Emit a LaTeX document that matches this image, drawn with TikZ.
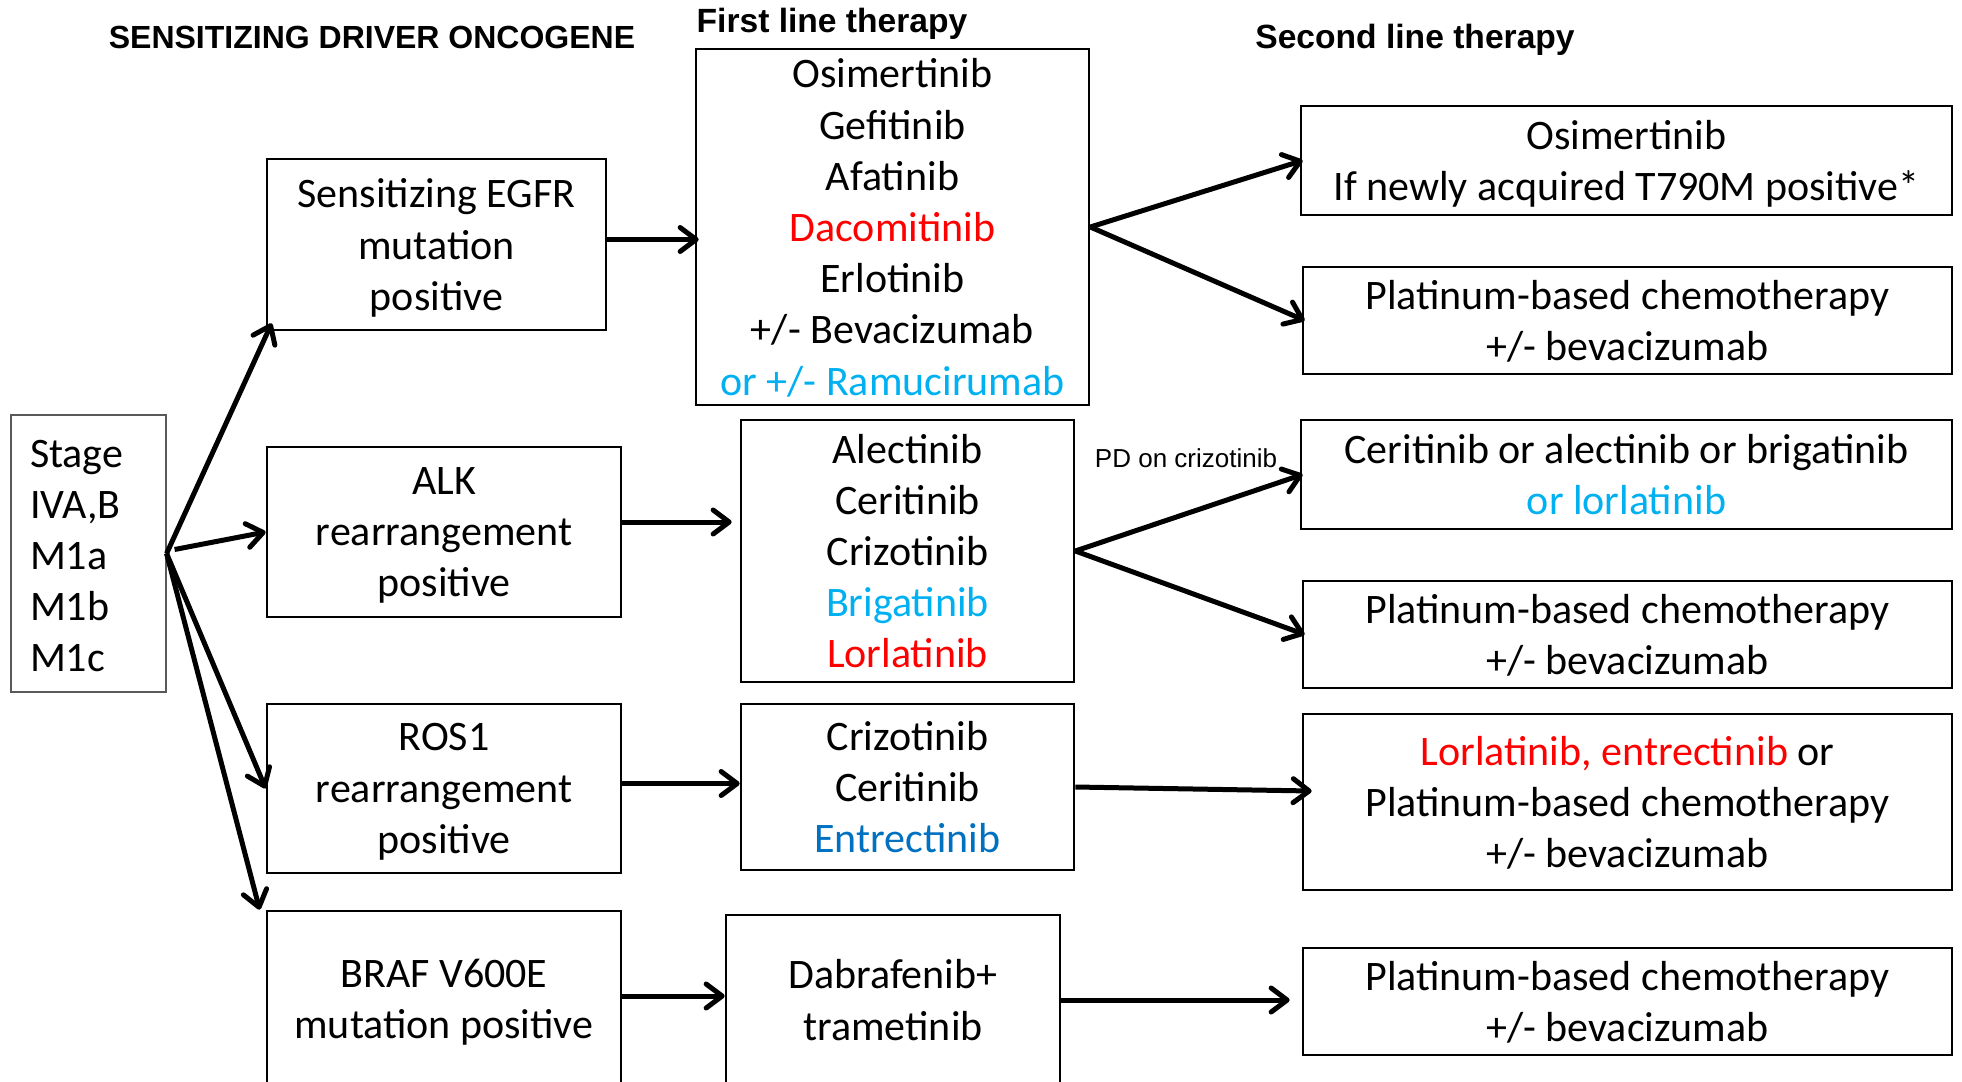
\documentclass[tikz,border=0pt]{standalone}
\usepackage{fontspec}
\setmainfont{Carlito}
\newfontfamily\headfont{Liberation Sans}
\usetikzlibrary{arrows.meta,calc}
\definecolor{lblue}{RGB}{0,176,240}
\definecolor{dblue}{RGB}{0,112,192}
\definecolor{tred}{RGB}{255,0,0}

\begin{document}
\begin{tikzpicture}[x=0.5pt,y=-0.5pt,
  box/.style={draw,line width=1.35pt,inner sep=0pt,align=center,
              font=\fontsize{21}{25.6}\selectfont,text depth=-2.2pt},
  conn/.style={line width=2.5pt,-{Straight Barb[length=8pt,width=12pt,round]}},
  head/.style={font=\headfont\bfseries\fontsize{16}{19}\selectfont,anchor=base,inner sep=0pt},
  subhead/.style={head,font=\headfont\bfseries\fontsize{16.8}{19}\selectfont}]

\useasboundingbox (0,0) rectangle (1962,1081);
\clip (0,0) rectangle (1962,1081);

% column headers
\node[head]    (title)  at (372,49)  {SENSITIZING DRIVER ONCOGENE};
\node[subhead] (first)  at (832,33)  {First line therapy};
\node[subhead] (second) at (1415,49) {Second line therapy};

% stage
\node[box,draw=gray!70!black,line width=0.6pt,align=left,text width=58.5pt,
      text depth=,text height=16.2pt,
      inner xsep=9.5pt,minimum height=138.5pt] (stage) at (88.5,553.5)
      {Stage\\IVA,B\\M1a\\M1b\\M1c};

% driver alterations
\node[box,minimum width=169.5pt,minimum height=85.5pt] (egfr) at (436.5,244.5)
      {Sensitizing EGFR\\mutation\\positive};
\node[box,minimum width=177pt,minimum height=85pt] (alk) at (444,532)
      {ALK\\rearrangement\\positive};
\node[box,minimum width=177pt,minimum height=84.5pt,text depth=-6.2pt] (ros) at (444,788.5)
      {ROS1\\rearrangement\\positive};
\node[box,minimum width=177pt,minimum height=88pt] (braf) at (444,999)
      {BRAF V600E\\mutation positive};

% first line therapy
\node[box,minimum width=196.5pt,minimum height=178pt] (f1) at (892.5,227)
      {Osimertinib\\Gefitinib\\Afatinib\\\textcolor{tred}{Dacomitinib}\\Erlotinib\\
       +/- Bevacizumab\\\textcolor{lblue}{or +/- Ramucirumab}};
\node[box,minimum width=166.5pt,minimum height=131pt] (f2) at (907.5,551)
      {Alectinib\\Ceritinib\\Crizotinib\\\textcolor{lblue}{Brigatinib}\\\textcolor{tred}{Lorlatinib}};
\node[box,minimum width=166.5pt,minimum height=83pt] (f3) at (907.5,787)
      {Crizotinib\\Ceritinib\\\textcolor{dblue}{Entrectinib}};
\node[box,minimum width=167pt,minimum height=85pt] (f4) at (893,1000)
      {Dabrafenib+\\trametinib};

% second line therapy
\node[box,minimum width=325.5pt,minimum height=54.5pt] (s1) at (1626.5,160.5)
      {Osimertinib\\If newly acquired T790M positive*};
\node[box,minimum width=324.5pt,minimum height=53.5pt] (s2) at (1627.5,320.5)
      {Platinum-based chemotherapy\\+/- bevacizumab};
\node[box,minimum width=325.5pt,minimum height=54.5pt] (s3) at (1626.5,474.5)
      {Ceritinib or alectinib or brigatinib\\\textcolor{lblue}{or lorlatinib}};
\node[box,minimum width=324.5pt,minimum height=53.5pt] (s4) at (1627.5,634.5)
      {Platinum-based chemotherapy\\+/- bevacizumab};
\node[box,minimum width=324.5pt,minimum height=88pt] (s5) at (1627.5,802)
      {\textcolor{tred}{Lorlatinib, entrectinib} or\\Platinum-based chemotherapy\\+/- bevacizumab};
\node[box,minimum width=324.5pt,minimum height=53.5pt] (s6) at (1627.5,1001.5)
      {Platinum-based chemotherapy\\+/- bevacizumab};

\node[font=\headfont\fontsize{13}{15}\selectfont,anchor=base,inner sep=0pt] (pd)
      at (1186,467.5) {PD on crizotinib};

% stage to driver alterations
\draw[conn] (stage.east) -- ([shift={(6,-8)}]egfr.south west);
\draw[conn] ($(stage.east)+(8,-4)$) -- (alk.west);
\draw[conn] (stage.east) -- (ros.west);
\draw[conn] (stage.east) -- ([shift={(-6,0)}]braf.north west);

% driver alterations to first line
\draw[conn] ($(egfr.east)+(0,-5)$) -- ($(egfr.east -| f1.west)+(4,-5)$);
\draw[conn] ($(alk.east)+(0,-10)$) -- ($(alk.east -| f2.west)+(-8,-10)$);
\draw[conn] ($(ros.east)+(0,-5)$) -- ($(ros.east -| f3.west)+(0,-5)$);
\draw[conn] ($(braf.east)+(0,-3)$) -- ($(braf.east -| f4.west)+(0,-3)$);

% first line to second line
\draw[conn] (f1.east) -- ($(s1.west)+(3,0)$);
\draw[conn] (f1.east) -- ($(s2.west)+(3,0)$);
\draw[conn] (f2.east) -- ($(s3.west)+(3,0)$);
\draw[conn] (f2.east) -- ($(s4.west)+(3,0)$);
\draw[conn] (f3.east) -- ($(s5.west)+(10,-11)$);
\draw[conn] (f4.east) -- ($(f4.east -| s6.west)+(-12,0)$);

\end{tikzpicture}
\end{document}
